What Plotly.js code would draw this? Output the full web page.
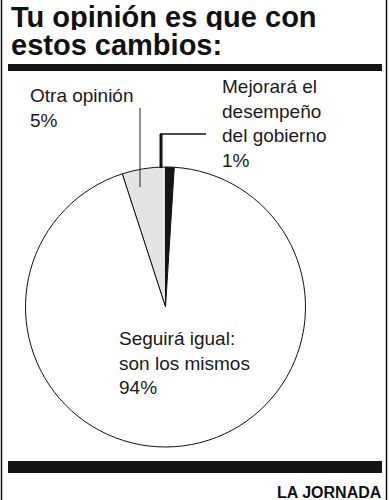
<!DOCTYPE html>
<html>
<head>
<meta charset="utf-8">
<script src="https://cdn.plot.ly/plotly-3.0.1.min.js"></script>
<style>html,body{margin:0;padding:0;background:#fff;}#chart{width:389px;height:500px;}</style>
</head>
<body>
<div id="chart"></div>
<script>
// Data (counterclockwise from 12 o'clock)
var labels = ["Mejorará el<br>desempeño<br>del gobierno", "Otra opinión", "Seguirá igual:<br>son los mismos"];
var values = [1, 5, 94];
var colors = ["#151515", "#e4e4e4", "#ffffff"];
var titleLines = ["Tu opinión es que con", "estos cambios:"];
var source = "LA JORNADA";

var W = 389, H = 500;
function px(x){ return x / W; }
function py(y){ return 1 - y / H; }

var cx = 165.5, cy = 307, r = 140;

var trace = {
  type: "pie",
  labels: labels,
  values: values,
  sort: false,
  direction: "counterclockwise",
  rotation: 0,
  textinfo: "none",
  hoverinfo: "label+percent",
  marker: { colors: colors, line: { color: "#111", width: 1 } },
  domain: { x: [px(cx - r), px(cx + r)], y: [py(cy + r), py(cy - r)] },
  showlegend: false
};

var font = "Liberation Sans, Arial, Helvetica, sans-serif";
var lblFont = { family: font, size: 19, color: "#1a1a1a" };
var titleFont = { family: font, size: 29, color: "#111" };

var annotations = [
  { text: "<b>" + titleLines[0] + "</b>", x: px(9), y: py(1), height: 27, valign: "middle", xref: "paper", yref: "paper", xanchor: "left", yanchor: "top", showarrow: false, font: titleFont },
  { text: "<b>" + titleLines[1] + "</b>", x: px(9), y: py(29.5), height: 27, valign: "middle", xref: "paper", yref: "paper", xanchor: "left", yanchor: "top", showarrow: false, font: titleFont },
  { text: labels[1] + "<br>" + values[1] + "%", x: px(28), y: py(83), xref: "paper", yref: "paper", xanchor: "left", yanchor: "top", align: "left", showarrow: false, font: lblFont },
  { text: labels[0] + "<br>" + values[0] + "%", x: px(220), y: py(74), xref: "paper", yref: "paper", xanchor: "left", yanchor: "top", align: "left", showarrow: false, font: lblFont },
  { text: labels[2] + "<br>" + values[2] + "%", x: px(117), y: py(326), xref: "paper", yref: "paper", xanchor: "left", yanchor: "top", align: "left", showarrow: false, font: lblFont },
  { text: "<b>" + source + "</b>", x: px(384), y: py(482), xref: "paper", yref: "paper", xanchor: "right", yanchor: "top", showarrow: false, font: { family: font, size: 16, color: "#111" } }
];

var shapes = [
  // frame verticals
  { type: "line", xref: "paper", yref: "paper", x0: px(1.5), x1: px(1.5), y0: 0, y1: 1, line: { color: "#111", width: 1.5 } },
  { type: "line", xref: "paper", yref: "paper", x0: px(386.5), x1: px(386.5), y0: 0, y1: 1, line: { color: "#111", width: 1.5 } },
  // thick rules
  { type: "rect", xref: "paper", yref: "paper", x0: px(8), x1: px(382), y0: py(71), y1: py(64), fillcolor: "#151515", line: { width: 0 } },
  { type: "rect", xref: "paper", yref: "paper", x0: px(8), x1: px(382), y0: py(473), y1: py(461), fillcolor: "#151515", line: { width: 0 } },
  // leader: Otra opinión
  { type: "line", xref: "paper", yref: "paper", x0: px(140), x1: px(140), y0: py(108), y1: py(187), line: { color: "#222", width: 1 } },
  // leader: Mejorará
  { type: "line", xref: "paper", yref: "paper", x0: px(161), x1: px(161), y0: py(134), y1: py(168), line: { color: "#111", width: 3 } },
  { type: "line", xref: "paper", yref: "paper", x0: px(160), x1: px(206), y0: py(134), y1: py(134), line: { color: "#111", width: 1.5 } }
];

var layout = {
  width: W, height: H,
  margin: { l: 0, r: 0, t: 0, b: 0 },
  paper_bgcolor: "#fff",
  showlegend: false,
  annotations: annotations,
  shapes: shapes
};

Plotly.newPlot("chart", [trace], layout, { displayModeBar: false, staticPlot: true });
</script>
</body>
</html>
